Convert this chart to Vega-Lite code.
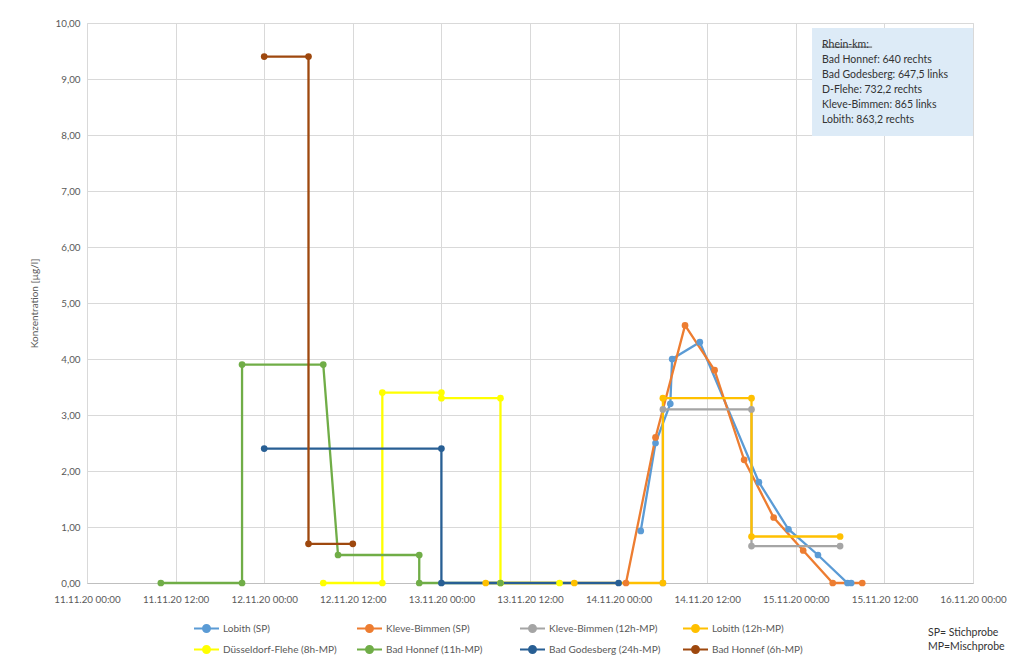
{
  "width": 886,
  "height": 560,
  "padding": {"left": 29, "top": 18, "right": 0, "bottom": 0},
  "background": "white",
  "config": {
    "font": "Lato",
    "axis": {"labelColor": "#595959", "titleColor": "#595959", "gridColor": "#D9D9D9", "gridWidth": 1, "ticks": false}
  },
  "data": {"values": [
    {"s": "Lobith (SP)", "i": 1, "t": "2020-11-14T03:00:00", "v": 0.93},
    {"s": "Lobith (SP)", "i": 2, "t": "2020-11-14T05:00:00", "v": 2.5},
    {"s": "Lobith (SP)", "i": 3, "t": "2020-11-14T07:00:00", "v": 3.2},
    {"s": "Lobith (SP)", "i": 4, "t": "2020-11-14T07:15:00", "v": 4.0},
    {"s": "Lobith (SP)", "i": 5, "t": "2020-11-14T11:00:00", "v": 4.3},
    {"s": "Lobith (SP)", "i": 6, "t": "2020-11-14T19:00:00", "v": 1.8},
    {"s": "Lobith (SP)", "i": 7, "t": "2020-11-14T23:00:00", "v": 0.96},
    {"s": "Lobith (SP)", "i": 8, "t": "2020-11-15T03:00:00", "v": 0.5},
    {"s": "Lobith (SP)", "i": 9, "t": "2020-11-15T07:00:00", "v": 0},
    {"s": "Lobith (SP)", "i": 10, "t": "2020-11-15T07:30:00", "v": 0},
    {"s": "Kleve-Bimmen (SP)", "i": 1, "t": "2020-11-14T01:00:00", "v": 0},
    {"s": "Kleve-Bimmen (SP)", "i": 2, "t": "2020-11-14T05:00:00", "v": 2.6},
    {"s": "Kleve-Bimmen (SP)", "i": 3, "t": "2020-11-14T09:00:00", "v": 4.6},
    {"s": "Kleve-Bimmen (SP)", "i": 4, "t": "2020-11-14T13:00:00", "v": 3.8},
    {"s": "Kleve-Bimmen (SP)", "i": 5, "t": "2020-11-14T17:00:00", "v": 2.2},
    {"s": "Kleve-Bimmen (SP)", "i": 6, "t": "2020-11-14T21:00:00", "v": 1.17},
    {"s": "Kleve-Bimmen (SP)", "i": 7, "t": "2020-11-15T01:00:00", "v": 0.58},
    {"s": "Kleve-Bimmen (SP)", "i": 8, "t": "2020-11-15T05:00:00", "v": 0},
    {"s": "Kleve-Bimmen (SP)", "i": 9, "t": "2020-11-15T09:00:00", "v": 0},
    {"s": "Kleve-Bimmen (12h-MP)", "i": 1, "t": "2020-11-14T06:00:00", "v": 0},
    {"s": "Kleve-Bimmen (12h-MP)", "i": 2, "t": "2020-11-14T06:00:00", "v": 3.1},
    {"s": "Kleve-Bimmen (12h-MP)", "i": 3, "t": "2020-11-14T18:00:00", "v": 3.1},
    {"s": "Kleve-Bimmen (12h-MP)", "i": 4, "t": "2020-11-14T18:00:00", "v": 0.66},
    {"s": "Kleve-Bimmen (12h-MP)", "i": 5, "t": "2020-11-15T06:00:00", "v": 0.66},
    {"s": "Lobith (12h-MP)", "i": 1, "t": "2020-11-13T06:00:00", "v": 0},
    {"s": "Lobith (12h-MP)", "i": 2, "t": "2020-11-13T18:00:00", "v": 0},
    {"s": "Lobith (12h-MP)", "i": 3, "t": "2020-11-14T06:00:00", "v": 0},
    {"s": "Lobith (12h-MP)", "i": 4, "t": "2020-11-14T06:00:00", "v": 3.3},
    {"s": "Lobith (12h-MP)", "i": 5, "t": "2020-11-14T18:00:00", "v": 3.3},
    {"s": "Lobith (12h-MP)", "i": 6, "t": "2020-11-14T18:00:00", "v": 0.83},
    {"s": "Lobith (12h-MP)", "i": 7, "t": "2020-11-15T06:00:00", "v": 0.83},
    {"s": "Düsseldorf-Flehe (8h-MP)", "i": 1, "t": "2020-11-12T08:00:00", "v": 0},
    {"s": "Düsseldorf-Flehe (8h-MP)", "i": 2, "t": "2020-11-12T16:00:00", "v": 0},
    {"s": "Düsseldorf-Flehe (8h-MP)", "i": 3, "t": "2020-11-12T16:00:00", "v": 3.4},
    {"s": "Düsseldorf-Flehe (8h-MP)", "i": 4, "t": "2020-11-13T00:00:00", "v": 3.4},
    {"s": "Düsseldorf-Flehe (8h-MP)", "i": 5, "t": "2020-11-13T00:00:00", "v": 3.3},
    {"s": "Düsseldorf-Flehe (8h-MP)", "i": 6, "t": "2020-11-13T08:00:00", "v": 3.3},
    {"s": "Düsseldorf-Flehe (8h-MP)", "i": 7, "t": "2020-11-13T08:00:00", "v": 0},
    {"s": "Düsseldorf-Flehe (8h-MP)", "i": 8, "t": "2020-11-13T16:00:00", "v": 0},
    {"s": "Bad Honnef (11h-MP)", "i": 1, "t": "2020-11-11T10:00:00", "v": 0},
    {"s": "Bad Honnef (11h-MP)", "i": 2, "t": "2020-11-11T21:00:00", "v": 0},
    {"s": "Bad Honnef (11h-MP)", "i": 3, "t": "2020-11-11T21:00:00", "v": 3.9},
    {"s": "Bad Honnef (11h-MP)", "i": 4, "t": "2020-11-12T08:00:00", "v": 3.9},
    {"s": "Bad Honnef (11h-MP)", "i": 5, "t": "2020-11-12T10:00:00", "v": 0.5},
    {"s": "Bad Honnef (11h-MP)", "i": 6, "t": "2020-11-12T21:00:00", "v": 0.5},
    {"s": "Bad Honnef (11h-MP)", "i": 7, "t": "2020-11-12T21:00:00", "v": 0},
    {"s": "Bad Honnef (11h-MP)", "i": 8, "t": "2020-11-13T08:00:00", "v": 0},
    {"s": "Bad Godesberg (24h-MP)", "i": 1, "t": "2020-11-12T00:00:00", "v": 2.4},
    {"s": "Bad Godesberg (24h-MP)", "i": 2, "t": "2020-11-13T00:00:00", "v": 2.4},
    {"s": "Bad Godesberg (24h-MP)", "i": 3, "t": "2020-11-13T00:00:00", "v": 0},
    {"s": "Bad Godesberg (24h-MP)", "i": 4, "t": "2020-11-14T00:00:00", "v": 0},
    {"s": "Bad Honnef (6h-MP)", "i": 1, "t": "2020-11-12T00:00:00", "v": 9.4},
    {"s": "Bad Honnef (6h-MP)", "i": 2, "t": "2020-11-12T06:00:00", "v": 9.4},
    {"s": "Bad Honnef (6h-MP)", "i": 3, "t": "2020-11-12T06:00:00", "v": 0.7},
    {"s": "Bad Honnef (6h-MP)", "i": 4, "t": "2020-11-12T12:00:00", "v": 0.7}
  ]},
  "encoding": {
    "x": {
      "field": "t", "type": "temporal", "title": null,
      "scale": {"domain": [{"year": 2020, "month": 11, "date": 11, "hours": 0}, {"year": 2020, "month": 11, "date": 16, "hours": 0}], "nice": false},
      "axis": {"format": "%d.%m.%y %H:%M", "values": [
        {"year": 2020, "month": 11, "date": 11, "hours": 0}, {"year": 2020, "month": 11, "date": 11, "hours": 12},
        {"year": 2020, "month": 11, "date": 12, "hours": 0}, {"year": 2020, "month": 11, "date": 12, "hours": 12},
        {"year": 2020, "month": 11, "date": 13, "hours": 0}, {"year": 2020, "month": 11, "date": 13, "hours": 12},
        {"year": 2020, "month": 11, "date": 14, "hours": 0}, {"year": 2020, "month": 11, "date": 14, "hours": 12},
        {"year": 2020, "month": 11, "date": 15, "hours": 0}, {"year": 2020, "month": 11, "date": 15, "hours": 12},
        {"year": 2020, "month": 11, "date": 16, "hours": 0}],
        "labelFontSize": 9.8, "labelPadding": 11, "domainColor": "#BFBFBF", "labelFlush": false, "labelOverlap": false}
    },
    "y": {
      "field": "v", "type": "quantitative",
      "scale": {"domain": [0, 10], "nice": false},
      "axis": {"values": [0,1,2,3,4,5,6,7,8,9,10], "title": "Konzentration [µg/l]", "titleFontSize": 10, "titleFontWeight": "normal", "titlePadding": 16, "labelFontSize": 9.8, "labelPadding": 7, "domain": false, "labelExpr": "replace(format(datum.value, '.2f'), '.', ',')"}
    }
  },
  "layer": [
    {
      "data": {"values": [{"t": "2020-11-15T02:12:00", "t2": "2020-11-16T00:00:00", "v": 9.91, "v2": 7.98}]},
      "mark": {"type": "rect", "fill": "#DDEBF7"},
      "encoding": {
        "x2": {"field": "t2"},
        "y2": {"field": "v2"}
      }
    },
    {
      "data": {"values": [{"t": "2020-11-15T03:33:00", "v": 9.7}]},
      "mark": {"type": "text", "align": "left", "baseline": "top", "fontSize": 10.5, "lineHeight": 15, "lineBreak": "|", "color": "#333333"},
      "encoding": {
        "text": {"value": "Rhein-km:|Bad Honnef: 640 rechts|Bad Godesberg: 647,5 links|D-Flehe: 732,2 rechts|Kleve-Bimmen: 865 links|Lobith: 863,2 rechts"}
      }
    },
    {
      "data": {"values": [{"t": "2020-11-15T03:33:00", "t2": "2020-11-15T10:20:00", "v": 9.57}]},
      "mark": {"type": "rule", "color": "#333333", "strokeWidth": 0.8},
      "encoding": {
        "x2": {"field": "t2"}
      }
    },
    {
      "mark": {"type": "line", "strokeWidth": 2.3},
      "encoding": {
        "order": {"field": "i", "type": "quantitative"},
        "color": {"field": "s", "type": "nominal",
          "scale": {"domain": ["Lobith (SP)", "Kleve-Bimmen (SP)", "Kleve-Bimmen (12h-MP)", "Lobith (12h-MP)", "Düsseldorf-Flehe (8h-MP)", "Bad Honnef (11h-MP)", "Bad Godesberg (24h-MP)", "Bad Honnef (6h-MP)"],
                    "range": ["#5B9BD5", "#ED7D31", "#A5A5A5", "#FFC000", "#FFFF00", "#70AD47", "#285F94", "#9E480E"]},
          "legend": {
            "orient": "none", "legendX": 106, "legendY": 592, "columns": 4, "direction": "horizontal",
            "gridAlign": "all", "columnPadding": 16, "rowPadding": -2, "title": null,
            "labelFontSize": 10, "labelOffset": 3, "labelLimit": 300, "labelColor": "#595959",
            "symbolType": "M-1,0H1M-0.28,0A0.28,0.28,0,1,0,0.28,0A0.28,0.28,0,1,0,-0.28,0Z",
            "symbolSize": 625, "symbolStrokeWidth": 2
          }}
      }
    },
    {
      "mark": {"type": "point", "filled": true, "size": 45, "opacity": 1},
      "encoding": {
        "color": {"field": "s", "type": "nominal",
          "legend": {
            "orient": "none", "legendX": 106, "legendY": 592, "columns": 4, "direction": "horizontal",
            "gridAlign": "all", "columnPadding": 16, "rowPadding": -2, "title": null,
            "labelFontSize": 10, "labelOffset": 3, "labelLimit": 300, "labelColor": "#595959",
            "symbolType": "M-1,0H1M-0.28,0A0.28,0.28,0,1,0,0.28,0A0.28,0.28,0,1,0,-0.28,0Z",
            "symbolSize": 625, "symbolStrokeWidth": 2
          }
        }
      }
    },
    {
      "data": {"values": [{"t": "2020-11-15T17:54:00", "v": -0.8}]},
      "mark": {"type": "text", "align": "left", "baseline": "top", "fontSize": 10.5, "lineHeight": 14, "lineBreak": "|", "color": "#333333"},
      "encoding": {
        "text": {"value": "SP= Stichprobe|MP=Mischprobe"}
      }
    }
  ]
}
